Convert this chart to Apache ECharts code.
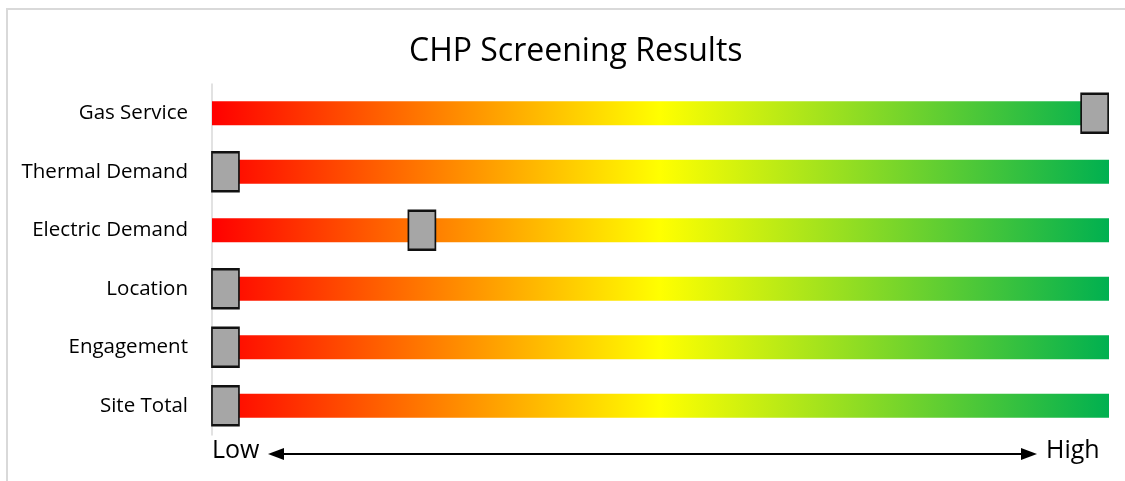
<!DOCTYPE html>
<html>
<head>
<meta charset="utf-8">
<script src="https://cdn.jsdelivr.net/npm/echarts@6/dist/echarts.min.js"></script>
<style>
  html, body { margin: 0; padding: 0; background: #fff; }
  #chart { width: 1125px; height: 481px; }
</style>
</head>
<body>
<div id="chart"></div>
<script>
// categories, top to bottom
var categories = ['Gas Service', 'Thermal Demand', 'Electric Demand', 'Location', 'Engagement', 'Site Total'];
// full-length background bars (scale 0-100)
var barValues = [100, 100, 100, 100, 100, 100];
// marker positions on the Low-High scale
var scoreValues = [98.4, 1.5, 23.4, 1.5, 1.5, 1.5];
var scaleLabels = ['Low', 'High'];

var font = 'Open Sans';

var myChart = echarts.init(document.getElementById('chart'));

var option = {
	animation : false,
	title : {
		text : 'CHP Screening Results',
		left : 404,
		top : 31,
		textStyle : {
			fontFamily : font,
			fontSize : 32,
			fontWeight : 'normal',
			color : '#000'
		}
	},
	grid : {
		left : 212,
		right : 16,
		top : 84,
		bottom : 46
	},
	xAxis : {
		type : 'value',
		min : 0,
		max : 100,
		show : false
	},
	yAxis : {
		type : 'category',
		inverse : true,
		data : categories,
		axisLine : { lineStyle : { color : '#d9d9d9', width : 1.5 } },
		axisTick : { show : false },
		axisLabel : {
			fontFamily : font,
			fontSize : 20.5,
			color : '#000',
			margin : 24,
			padding : [3, 0, 0, 0]
		}
	},
	series : [ {
		type : 'bar',
		data : barValues,
		barWidth : 24,
		silent : true,
		itemStyle : {
			color : new echarts.graphic.LinearGradient(0, 0, 1, 0, [
				{ offset : 0, color : '#ff0000' },
				{ offset : 0.5, color : '#ffff00' },
				{ offset : 1, color : '#00b050' }
			])
		}
	}, {
		type : 'scatter',
		data : scoreValues.map(function(v, i) { return [v, i]; }),
		symbol : 'rect',
		symbolSize : [27, 39],
		z : 5,
		itemStyle : {
			color : '#a6a6a6',
			borderColor : '#111',
			borderWidth : 2,
			opacity : 1
		}
	} ],
	graphic : [ {
		type : 'rect',
		shape : { x : 7, y : 9, width : 1130, height : 490 },
		style : { fill : 'none', stroke : '#d9d9d9', lineWidth : 2 }
	}, {
		type : 'text',
		left : 212,
		top : 438,
		style : { text : scaleLabels[0], font : '25px ' + font, fill : '#000' }
	}, {
		type : 'text',
		left : 1046,
		top : 438,
		style : { text : scaleLabels[1], font : '25px ' + font, fill : '#000' }
	}, {
		type : 'line',
		shape : { x1 : 280, y1 : 454, x2 : 1024, y2 : 454 },
		style : { stroke : '#000', lineWidth : 2 }
	}, {
		type : 'polygon',
		shape : { points : [[268, 454], [284, 448], [284, 460]] },
		style : { fill : '#000' }
	}, {
		type : 'polygon',
		shape : { points : [[1037, 454], [1021, 448], [1021, 460]] },
		style : { fill : '#000' }
	} ]
};

myChart.setOption(option);
</script>
</body>
</html>
